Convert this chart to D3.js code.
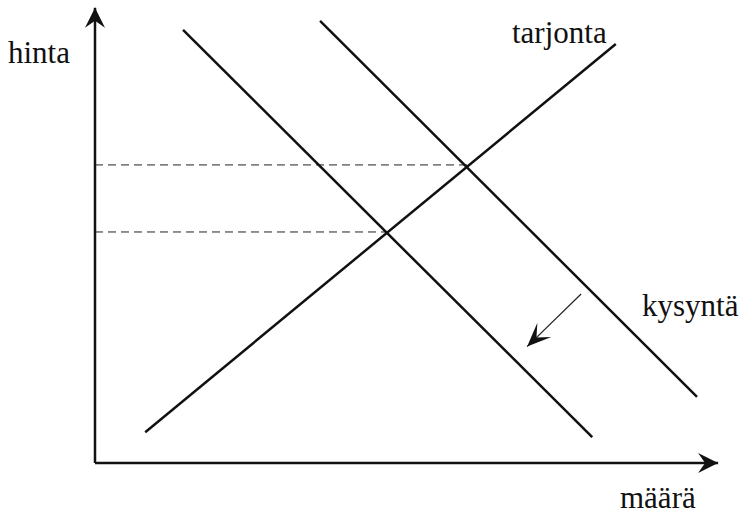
<!DOCTYPE html>
<html>
<head>
<meta charset="utf-8">
<script src="https://cdn.jsdelivr.net/npm/d3@7"></script>
<style>
    body { margin: 0; background: #fff; }
</style>
</head>
<body>
<div id="chart"></div>
<script>
// quantity / price coordinates (axes run 0..10)
const supply = [[0.81, 0.68], [8.40, 9.25]];
const demandOld = [[3.63, 9.76], [9.71, 1.46]];
const demandNew = [[1.42, 9.56], [8.02, 0.57]];
const equilibria = [[6.00, 6.58], [4.71, 5.10]];
const shiftArrow = [[7.84, 3.73], [6.97, 2.57]];
const axisEnd = 10.05;
const labels = ["hinta", "tarjonta", "kysyntä", "määrä"];

class SupplyDemandChart {
    constructor(parentElement) {
        this.parentElement = parentElement;
        this.initVis();
    }

    initVis() {
        let vis = this;

        vis.width = 742;
        vis.height = 517;

        vis.svg = d3.select("#" + vis.parentElement)
            .append("svg")
            .attr("width", vis.width)
            .attr("height", vis.height);

        // origin sits at (95, 463)
        vis.x = d3.scaleLinear().domain([0, 10]).range([95, 715]);
        vis.y = d3.scaleLinear().domain([0, 10]).range([463, 10]);

        vis.line = d3.line().x(d => vis.x(d[0])).y(d => vis.y(d[1]));

        vis.drawVis();
    }

    // filled, notched arrowhead pointing from p0 to p1
    arrowHead(p0, p1, len, half, notch) {
        let vis = this;
        let x0 = vis.x(p0[0]), y0 = vis.y(p0[1]);
        let x1 = vis.x(p1[0]), y1 = vis.y(p1[1]);
        let d = Math.hypot(x1 - x0, y1 - y0);
        let ux = (x1 - x0) / d, uy = (y1 - y0) / d;
        let px = -uy, py = ux;
        let bx = x1 - ux * len, by = y1 - uy * len;
        let pts = [
            [x1, y1],
            [bx + px * half, by + py * half],
            [x1 - ux * notch, y1 - uy * notch],
            [bx - px * half, by - py * half]
        ];
        vis.svg.append("path")
            .attr("d", "M" + pts.map(p => p.join(",")).join("L") + "Z")
            .attr("fill", "#111");
    }

    drawVis() {
        let vis = this;

        // dashed guides from price axis to each equilibrium
        vis.svg.selectAll(".guide")
            .data(equilibria)
            .enter()
            .append("path")
            .attr("class", "guide")
            .attr("d", d => vis.line([[0, d[1]], d]))
            .attr("stroke", "#222")
            .attr("stroke-width", 1)
            .attr("stroke-dasharray", "8,5")
            .attr("fill", "none");

        // axes
        let yAxis = [[0, 0], [0, axisEnd]];
        let xAxis = [[0, 0], [axisEnd, 0]];
        [yAxis, xAxis].forEach(a => {
            vis.svg.append("path")
                .attr("d", vis.line(a))
                .attr("stroke", "#111")
                .attr("stroke-width", 2.5)
                .attr("fill", "none");
            vis.arrowHead(a[0], a[1], 20, 10, 13);
        });

        // supply and demand curves
        vis.svg.selectAll(".curve")
            .data([supply, demandOld, demandNew])
            .enter()
            .append("path")
            .attr("class", "curve")
            .attr("d", d => vis.line(d))
            .attr("stroke", "#111")
            .attr("stroke-width", 2.5)
            .attr("fill", "none");

        // demand shift arrow
        vis.svg.append("path")
            .attr("d", vis.line(shiftArrow))
            .attr("stroke", "#222")
            .attr("stroke-width", 1.2)
            .attr("fill", "none");
        vis.arrowHead(shiftArrow[0], shiftArrow[1], 24, 10, 13);

        // labels
        let pos = [[8, 63], [512, 43], [642, 316], [620, 508]];
        vis.svg.selectAll(".label")
            .data(labels)
            .enter()
            .append("text")
            .attr("class", "label")
            .attr("x", (d, i) => pos[i][0])
            .attr("y", (d, i) => pos[i][1])
            .attr("font-family", "'Liberation Serif', 'DejaVu Serif', serif")
            .attr("font-size", 31)
            .attr("fill", "#111")
            .text(d => d);
    }
}

new SupplyDemandChart("chart");
</script>
</body>
</html>
